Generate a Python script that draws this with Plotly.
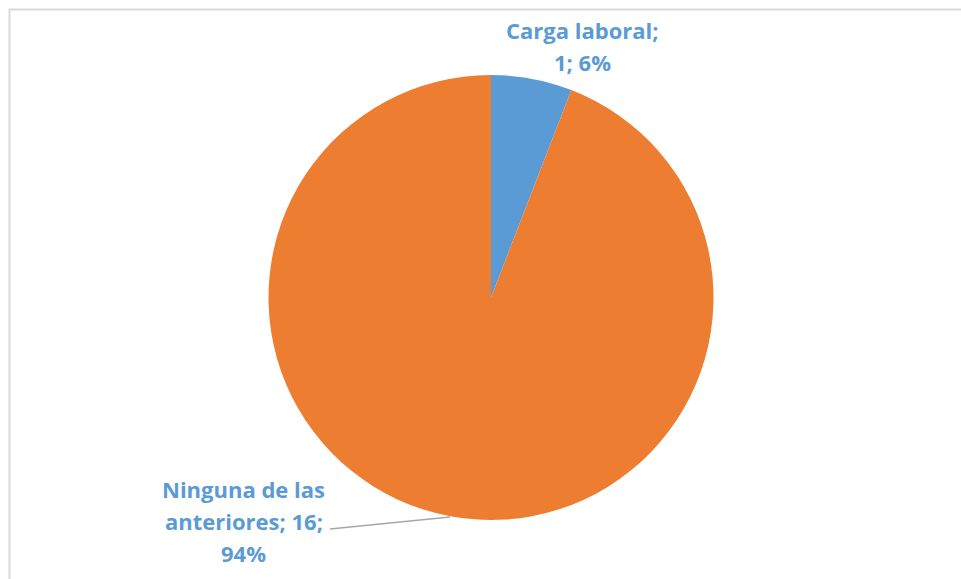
import textwrap
import plotly.graph_objects as go

labels = ["Carga laboral", "Ninguna de las anteriores"]
values = [1, 16]
colors = ["#5B9BD5", "#ED7D31"]

W, H = 961, 579
total = sum(values)


def px(x):
    return x / W


def py(y):
    return 1 - y / H


fig = go.Figure(go.Pie(
    labels=labels, values=values, sort=False, direction="clockwise", rotation=0,
    marker=dict(colors=colors, line=dict(width=0)),
    textinfo="none", hoverinfo="label+value+percent", showlegend=False,
    domain=dict(x=[px(268), px(714)], y=[py(520), py(75)]),
))

label_pos = [(582, 30), (244, 489)]
line_gap = 32
annotations = []
for lab, val, (cx, cy) in zip(labels, values, label_pos):
    pct = round(100 * val / total)
    lines = textwrap.wrap(f"{lab}; {val}; {pct}%", width=15)
    for i, ln in enumerate(lines):
        annotations.append(dict(
            text=f"<b>{ln}</b>", x=px(cx), y=py(cy + i * line_gap),
            xref="paper", yref="paper", xanchor="center", yanchor="middle",
            showarrow=False, font=dict(family="Open Sans", size=22, color="#5B9BD5"),
        ))

fig.update_layout(
    width=W, height=H, margin=dict(l=0, r=0, t=0, b=0),
    paper_bgcolor="white", plot_bgcolor="white",
    annotations=annotations,
    shapes=[
        dict(type="rect", xref="paper", yref="paper",
             x0=px(9.5), x1=1.1, y0=-0.1, y1=py(9.5),
             line=dict(color="#D9D9D9", width=2), fillcolor="rgba(0,0,0,0)"),
        dict(type="line", xref="paper", yref="paper",
             x0=px(330), y0=py(529), x1=px(450), y1=py(517),
             line=dict(color="#A6A6A6", width=1.5)),
    ],
)

fig.write_html(
    "out.html",
    config=dict(displayModeBar=False),
    post_script="document.body.style.margin='0';document.body.style.overflow='hidden';",
)
